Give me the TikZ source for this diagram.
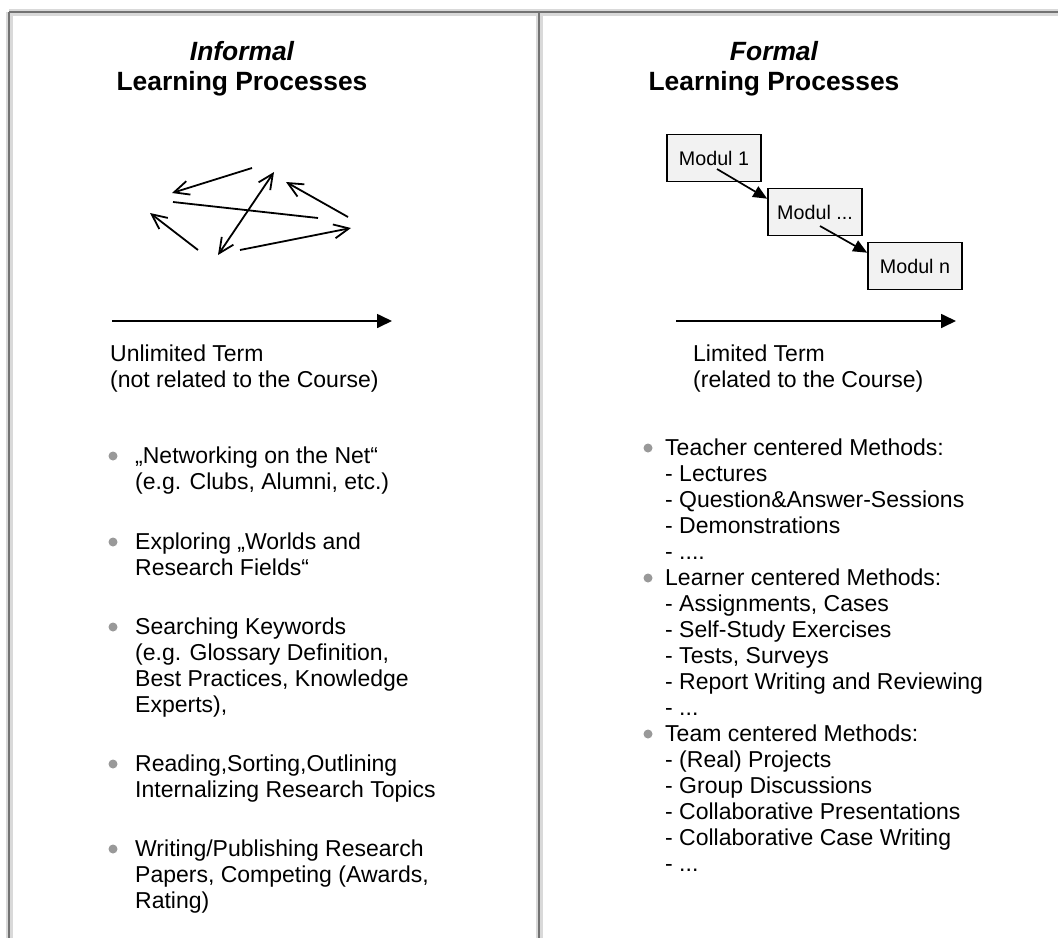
\documentclass[tikz,border=0pt]{standalone}
\usepackage{fontspec}
\setmainfont{Liberation Sans}
\usetikzlibrary{arrows.meta}

\tikzset{
  frameband/.style={line width=7pt, draw=black!15},
  framecore/.style={line width=1.5pt, draw=black!55},
  headline/.style={anchor=base, inner sep=0pt, font=\fontsize{26.4}{30}\selectfont\bfseries},
  listtext/.style={align=left, anchor=north west, yshift=18.2pt, inner sep=0pt,
    font=\fontsize{23}{26}\selectfont, execute at begin node=\strut},
  modul/.style={draw, fill=black!5, line width=1.6pt, minimum width=94pt, minimum height=47pt,
    inner sep=0pt, font=\fontsize{19.7}{22}\selectfont},
  bullet/.style={circle, fill=black!40, inner sep=0pt, minimum size=9pt},
  timeline/.style={line width=1.7pt, -{Triangle[length=15pt,width=14pt]}},
  modarrow/.style={line width=1.7pt, -{Triangle[length=14pt,width=12pt]}},
  freearrow/.style={line width=1.8pt, -{Straight Barb[length=15pt,width=14pt]}},
}

\begin{document}
\begin{tikzpicture}[x=1pt,y=-1pt]
  \useasboundingbox (0,0) rectangle (1058,938);

  \foreach \a/\b in {{(9,12)}/{(1058,12)},{(9,12)}/{(9,938)},{(539,12)}/{(539,938)}}
    \draw[frameband] \a -- \b;
  \foreach \a/\b in {{(9,12)}/{(1058,12)},{(9,12)}/{(9,938)},{(539,12)}/{(539,938)}}
    \draw[framecore] \a -- \b;

  \node[headline] (infA) at (242,60) {\itshape Informal};
  \node[headline] (infB) at (242,90) {Learning Processes};
  \node[headline] (forA) at (774,60) {\itshape Formal};
  \node[headline] (forB) at (774,90) {Learning Processes};

  \coordinate (p1) at (252,168); \coordinate (q1) at (172,193);
  \coordinate (p2) at (173,202); \coordinate (q2) at (318,218);
  \coordinate (p3) at (198,250); \coordinate (q3) at (150,213);
  \coordinate (p4) at (274,172); \coordinate (q4) at (218,255);
  \coordinate (p5) at (348,217); \coordinate (q5) at (286,182);
  \coordinate (p6) at (240,250); \coordinate (q6) at (351,228);
  \draw[freearrow] (p1) -- (q1);
  \draw[line width=1.8pt] (p2) -- (q2);
  \draw[freearrow] (p3) -- (q3);
  \draw[freearrow, {Straight Barb[length=15pt,width=14pt]}-{Straight Barb[length=15pt,width=14pt]}] (p4) -- (q4);
  \draw[freearrow] (p5) -- (q5);
  \draw[freearrow] (p6) -- (q6);

  \node[modul] (m1) at (714,158) {Modul 1};
  \node[modul] (m2) at (815,212) {Modul ...};
  \node[modul] (mn) at (915,266) {Modul n};
  \draw[modarrow] ([xshift=3pt,yshift=-11pt]m1.center) -- ([yshift=-11pt]m2.north west);
  \draw[modarrow] ([xshift=5pt,yshift=-14pt]m2.center) -- ([yshift=-11pt]mn.north west);

  \coordinate (tl0) at (112,321); \coordinate (tl1) at (392,321);
  \coordinate (tr0) at (676,321); \coordinate (tr1) at (956,321);
  \draw[timeline] (tl0) -- (tl1);
  \draw[timeline] (tr0) -- (tr1);

  \node[listtext] (termL) at (110,363) {Unlimited Term\\(not related to the Course)};
  \node[listtext] (termR) at (693,363) {Limited Term\\(related to the Course)};

  \node[listtext] (l1) at (135,465) {„Networking on the Net“\\(e.g. Clubs, Alumni, etc.)};
  \node[listtext] (l2) at (135,551) {Exploring „Worlds and\\Research Fields“};
  \node[listtext] (l3) at (135,636) {Searching Keywords\\(e.g. Glossary Definition,\\Best Practices, Knowledge\\Experts),};
  \node[listtext] (l4) at (135,773) {Reading,Sorting,Outlining\\Internalizing Research Topics};
  \node[listtext] (l5) at (135,858) {Writing/Publishing Research\\Papers, Competing (Awards,\\Rating)};
  \foreach \y in {456,542,627,764,849}
    \node[bullet] at (113,\y) {};

  \node[listtext] (r1) at (665,457) {Teacher centered Methods:\\- Lectures\\- Question\&Answer-Sessions\\- Demonstrations\\- ....};
  \node[listtext] (r2) at (665,587) {Learner centered Methods:\\- Assignments, Cases\\- Self-Study Exercises\\- Tests, Surveys\\- Report Writing and Reviewing\\- ...};
  \node[listtext] (r3) at (665,743) {Team centered Methods:\\- (Real) Projects\\- Group Discussions\\- Collaborative Presentations\\- Collaborative Case Writing\\- ...};
  \foreach \y in {448,578,734}
    \node[bullet] at (648,\y) {};
\end{tikzpicture}
\end{document}
